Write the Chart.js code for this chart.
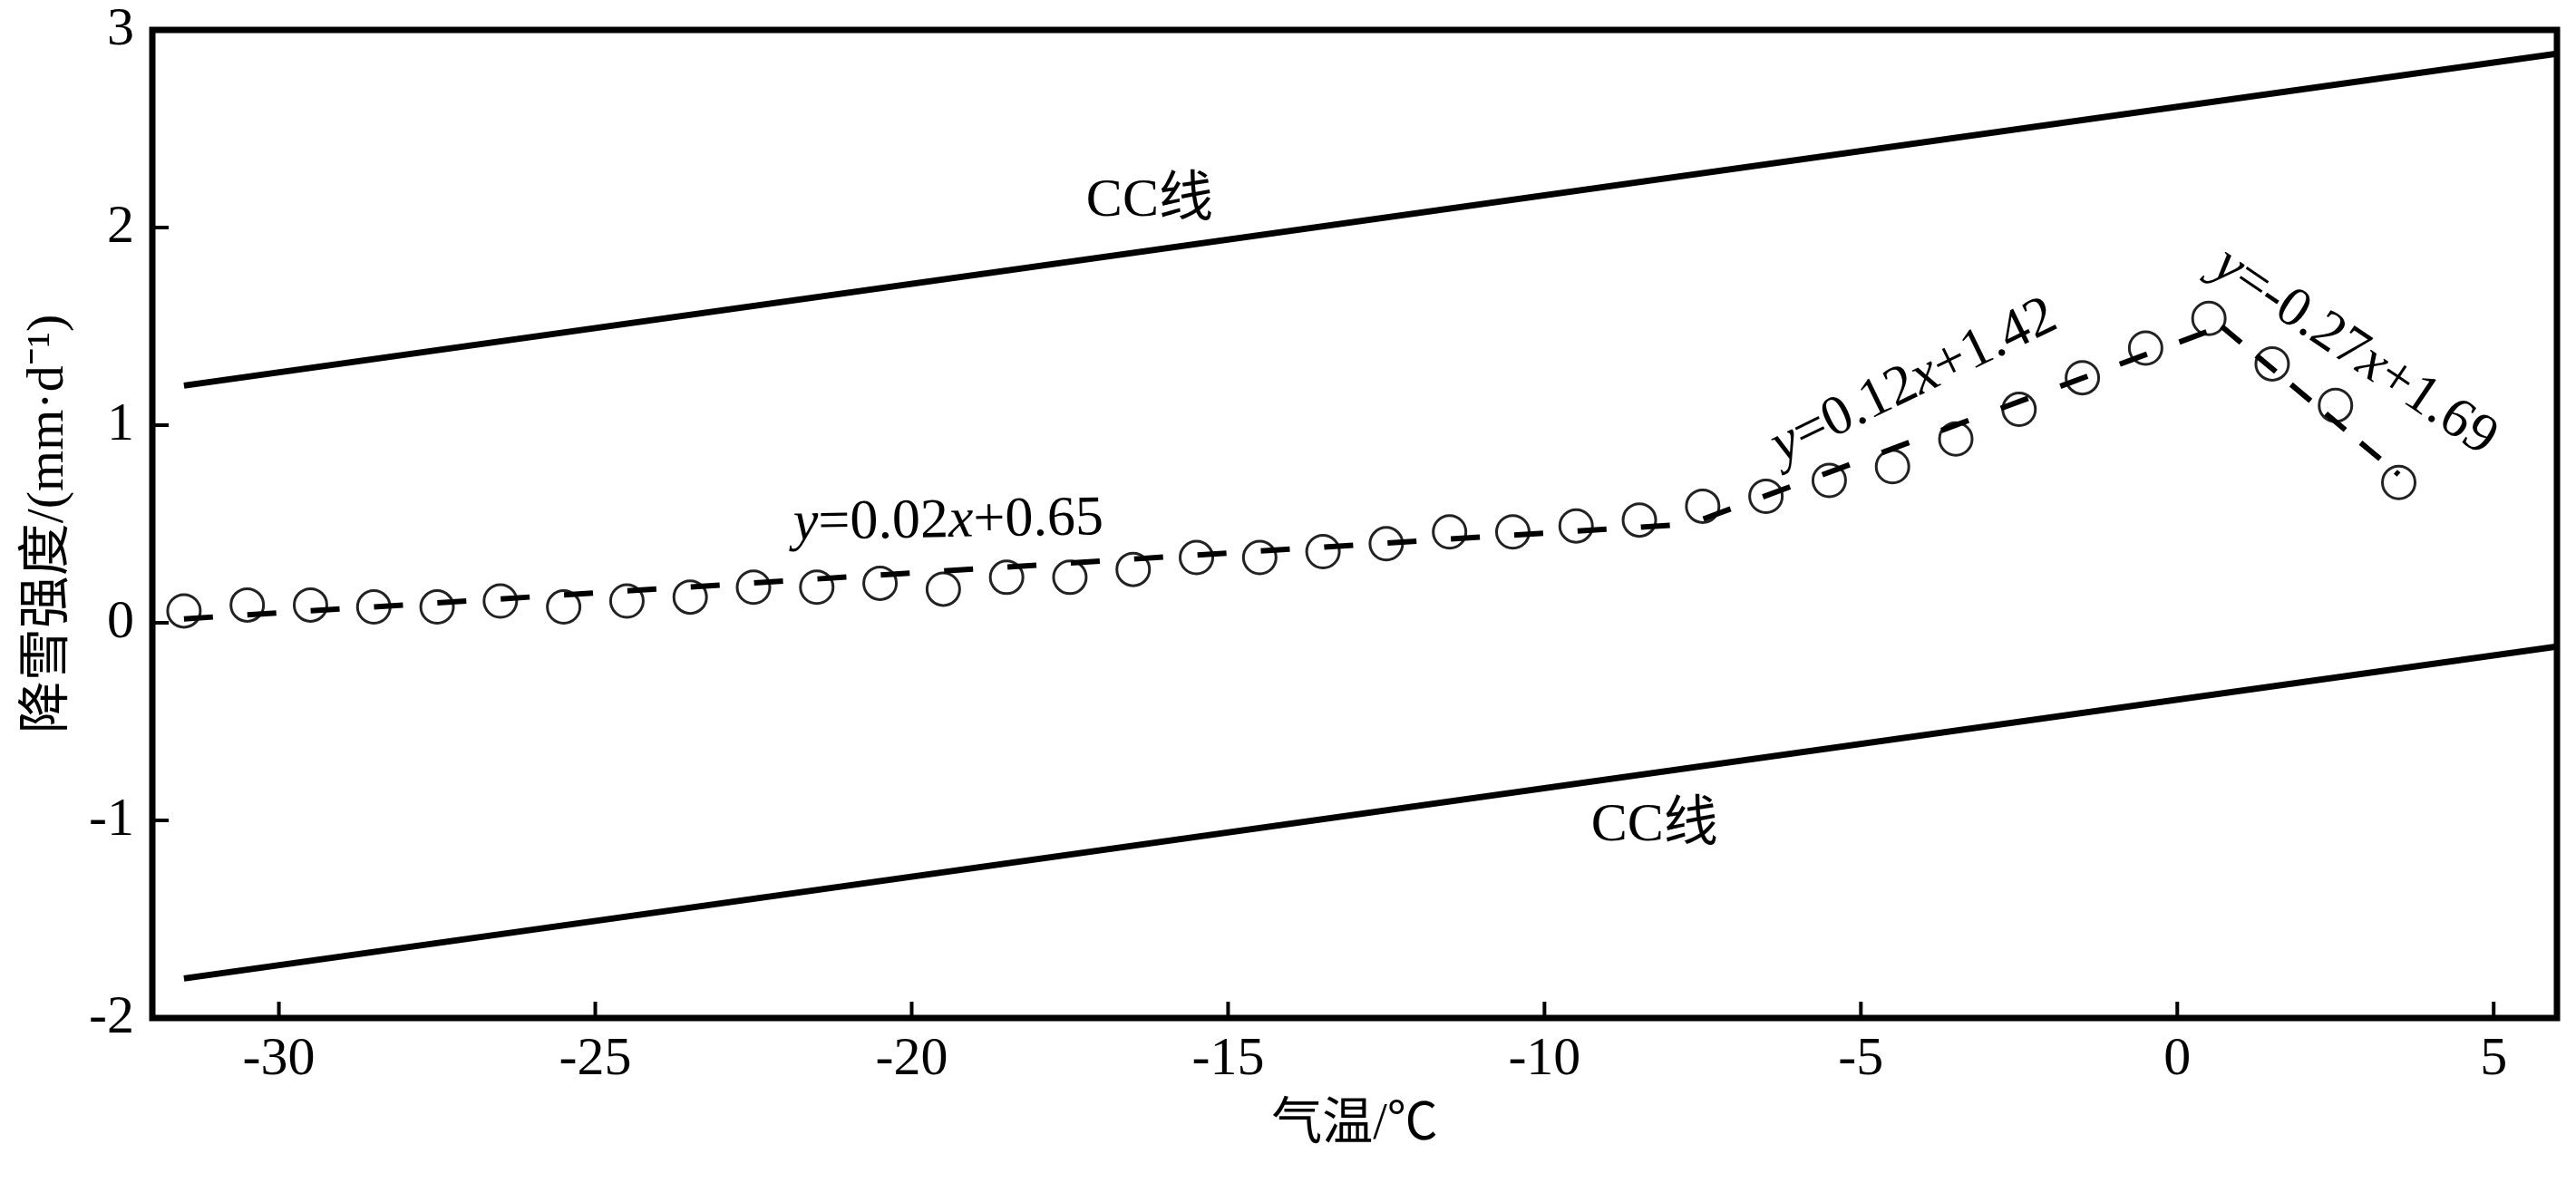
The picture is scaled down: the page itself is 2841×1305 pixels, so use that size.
<!DOCTYPE html>
<html>
<head>
<meta charset="utf-8">
<script src="https://cdn.jsdelivr.net/npm/chart.js@4/dist/chart.umd.min.js"></script>
<style>
html,body{margin:0;padding:0;background:#fff;}
#wrap{width:2841px;height:1305px;}
</style>
</head>
<body>
<div id="wrap"><canvas id="c" width="2841" height="1305"></canvas></div>
<script>
// ---- data ----
const temps = [-31.5,-30.5,-29.5,-28.5,-27.5,-26.5,-25.5,-24.5,-23.5,-22.5,-21.5,-20.5,-19.5,-18.5,-17.5,-16.5,-15.5,-14.5,-13.5,-12.5,-11.5,-10.5,-9.5,-8.5,-7.5,-6.5,-5.5,-4.5,-3.5,-2.5,-1.5,-0.5,0.5,1.5,2.5,3.5];
const snowRate = [0.06,0.09,0.09,0.08,0.08,0.11,0.08,0.11,0.13,0.18,0.18,0.20,0.17,0.23,0.23,0.27,0.33,0.33,0.36,0.40,0.46,0.46,0.49,0.52,0.59,0.64,0.72,0.79,0.93,1.08,1.24,1.39,1.54,1.31,1.10,0.71];
const fitX = [-31.5, -7.7, 0.7, 3.5];
const fitY = [0.02, 0.50, 1.50, 0.75];
const ccX = [-31.5, 6];
const ccUpper = [1.2, 2.88];
const ccLower = [-1.8, -0.12];
const xTicks = [-30, -25, -20, -15, -10, -5, 0, 5];
const yTicks = [-2, -1, 0, 1, 2, 3];
const xTitle = '气温/℃';
const yTitle = '降雪强度/(mm·d⁻¹)';
const eqTexts = ['y=0.02x+0.65', 'y=0.12x+1.42', 'y=-0.27x+1.69'];
const ccText = 'CC线';

const FAMILY = "'Liberation Serif','Noto Sans CJK SC',serif";

// label placement (data coordinates of label centres, rotation in degrees)
const labelPlacement = [
  {text: eqTexts[0], x: -19.42, y: 0.51, rot: -1, size: 62, eq: true},
  {text: eqTexts[1], x: -4.16, y: 1.22, rot: -26, size: 62, eq: true},
  {text: eqTexts[2], x: 2.80, y: 1.37, rot: 34, size: 62, eq: true},
  {text: ccText, x: -16.24, y: 2.13, rot: 0, size: 60, eq: false},
  {text: ccText, x: -8.26, y: -1.03, rot: 0, size: 60, eq: false}
];

const pts = (xs, ys) => xs.map((v, i) => ({x: v, y: ys[i]}));

const annot = {
  id: 'annot',
  afterDatasetsDraw(chart) {
    const {ctx, chartArea: a} = chart;
    const xs = chart.scales.x, ys = chart.scales.y;
    ctx.save();
    // frame
    ctx.strokeStyle = '#000';
    ctx.lineWidth = 7;
    ctx.strokeRect(a.left, a.top, a.right - a.left, a.bottom - a.top);
    // inward ticks
    ctx.lineWidth = 4;
    xTicks.forEach(v => {
      const px = xs.getPixelForValue(v);
      ctx.beginPath(); ctx.moveTo(px, a.bottom); ctx.lineTo(px, a.bottom - 18); ctx.stroke();
    });
    yTicks.forEach(v => {
      const py = ys.getPixelForValue(v);
      ctx.beginPath(); ctx.moveTo(a.left, py); ctx.lineTo(a.left + 18, py); ctx.stroke();
    });
    // text labels
    ctx.fillStyle = '#000';
    ctx.textBaseline = 'middle';
    ctx.textAlign = 'left';
    labelPlacement.forEach(l => {
      const px = xs.getPixelForValue(l.x), py = ys.getPixelForValue(l.y);
      const parts = [];
      for (const ch of l.text) {
        const it = l.eq && (ch === 'x' || ch === 'y');
        const last = parts[parts.length - 1];
        if (last && last.it === it) last.t += ch; else parts.push({t: ch, it});
      }
      let w = 0;
      parts.forEach(p => {
        ctx.font = (p.it ? 'italic ' : '') + l.size + 'px ' + FAMILY;
        p.w = ctx.measureText(p.t).width; w += p.w;
      });
      ctx.save();
      ctx.translate(px, py);
      ctx.rotate(l.rot * Math.PI / 180);
      let cx = -w / 2;
      parts.forEach(p => {
        ctx.font = (p.it ? 'italic ' : '') + l.size + 'px ' + FAMILY;
        ctx.fillText(p.t, cx, 0);
        cx += p.w;
      });
      ctx.restore();
    });
    ctx.restore();
  }
};

new Chart(document.getElementById('c'), {
  type: 'scatter',
  data: {
    datasets: [
      {
        label: 'fit', data: pts(fitX, fitY), showLine: true,
        borderColor: '#000', borderWidth: 6, borderDash: [32, 38],
        segment: {borderDash: c => (c.p0DataIndex === 2 ? [28, 22] : undefined)},
        pointRadius: 0, fill: false, order: 0
      },
      {
        label: 'obs', data: pts(temps, snowRate), showLine: false,
        pointRadius: 18, pointBorderWidth: 3, pointBorderColor: '#222',
        pointBackgroundColor: 'rgba(255,255,255,0)', order: 1
      },
      {
        label: 'ccUpper', data: pts(ccX, ccUpper), showLine: true,
        borderColor: '#000', borderWidth: 7, pointRadius: 0, fill: false, order: 2
      },
      {
        label: 'ccLower', data: pts(ccX, ccLower), showLine: true,
        borderColor: '#000', borderWidth: 7, pointRadius: 0, fill: false, order: 2
      }
    ]
  },
  options: {
    responsive: false,
    devicePixelRatio: 1,
    animation: false,
    layout: {padding: {top: 33, right: 21, left: 0, bottom: 0}},
    plugins: {legend: {display: false}, tooltip: {enabled: false}},
    scales: {
      x: {
        type: 'linear', min: -32, max: 6,
        afterBuildTicks: s => { s.ticks = xTicks.map(v => ({value: v})); },
        afterFit: s => { s.height = 182; s.paddingLeft = 0; s.paddingRight = 0; },
        grid: {display: false, drawTicks: false},
        border: {display: false},
        ticks: {padding: 10, color: '#000', font: {family: FAMILY, size: 60}, callback: v => String(v)},
        title: {display: true, text: xTitle, color: '#000', font: {family: FAMILY, size: 56}, padding: {top: 0, bottom: 30}}
      },
      y: {
        type: 'linear', min: -2, max: 3,
        afterBuildTicks: s => { s.ticks = yTicks.map(v => ({value: v})); },
        afterFit: s => { s.width = 168; s.paddingTop = 0; s.paddingBottom = 0; },
        grid: {display: false, drawTicks: false},
        border: {display: false},
        ticks: {padding: 20, color: '#000', font: {family: FAMILY, size: 60}, callback: v => String(v)},
        title: {display: true, text: yTitle, color: '#000', font: {family: FAMILY, size: 58}, padding: {top: 19, bottom: 0}}
      }
    }
  },
  plugins: [annot]
});
</script>
</body>
</html>
